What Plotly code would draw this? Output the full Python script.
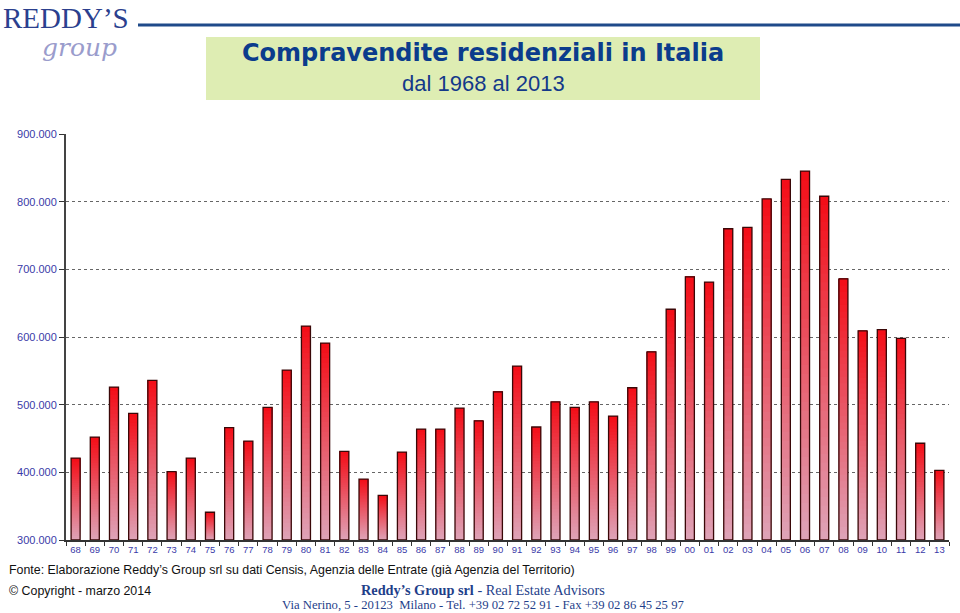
import plotly.graph_objects as go

years = ["68","69","70","71","72","73","74","75","76","77","78","79","80","81","82","83","84","85","86","87","88","89","90","91","92","93","94","95","96","97","98","99","00","01","02","03","04","05","06","07","08","09","10","11","12","13"]
sales = [421000,452000,526000,487000,536000,401000,421000,341000,466000,446000,496000,551000,616000,591000,431000,390000,366000,430000,464000,464000,495000,476000,519000,557000,467000,504000,496000,504000,483000,525000,578000,641000,689000,681000,760000,762000,804000,833000,845000,808000,686000,609000,611000,598000,443000,403000]
ytick_vals = [300000,400000,500000,600000,700000,800000,900000]

W, H = 960, 613
ML, MR, MT, MB = 66, 11, 134, 73
PW, PH = W - ML - MR, H - MT - MB
BASE = 300000

def px(x, y):
    return (x - ML) / PW, (H - MB - y) / PH

fig = go.Figure()

N = 40
bot = (222, 164, 184)
top = (244, 12, 22)
for k in range(N):
    t = (k + 0.5) / N
    c = tuple(round(bot[i] + (top[i] - bot[i]) * t) for i in range(3))
    fig.add_trace(go.Bar(
        x=years,
        y=[(v - BASE) * (N - k) / N for v in sales],
        base=[BASE + k * (v - BASE) / N for v in sales],
        width=0.47,
        marker=dict(color="rgb(%d,%d,%d)" % c, line=dict(width=0)),
        showlegend=False, hoverinfo="skip"))

fig.add_trace(go.Bar(
    x=years, y=[v - BASE for v in sales], base=[BASE] * len(sales),
    width=0.47,
    marker=dict(color="rgba(0,0,0,0)", line=dict(color="#3a0808", width=1.3)),
    showlegend=False, hoverinfo="skip"))

fig.update_layout(
    width=W, height=H, barmode="overlay",
    margin=dict(l=ML, r=MR, t=MT, b=MB),
    paper_bgcolor="white", plot_bgcolor="white",
    separators=",.",
    font=dict(family="Arial, Liberation Sans, sans-serif"),
    xaxis=dict(type="category", tickson="boundaries", ticks="outside", ticklen=4,
               tickcolor="#333", showline=True, linecolor="#333", linewidth=1.5,
               tickangle=0,
               tickfont=dict(size=9.5, color="#3a3aa8"), showgrid=False),
    yaxis=dict(range=[BASE, 900000], tickvals=ytick_vals, tickformat=",d",
               ticks="outside", ticklen=5, tickcolor="#333",
               showline=True, linecolor="#444", linewidth=2,
               tickfont=dict(size=11, color="#3a3aa8"),
               showgrid=True, gridcolor="#666", griddash="dot", gridwidth=1,
               zeroline=False),
)

shapes = []
x0, y0 = px(206, 100); x1, y1 = px(760, 37)
shapes.append(dict(type="rect", xref="paper", yref="paper", x0=x0, y0=y0, x1=x1, y1=y1,
                   fillcolor="#deedb3", line=dict(width=0), layer="below"))
lx0, ly = px(138, 25); lx1, _ = px(960, 25)
shapes.append(dict(type="line", xref="paper", yref="paper", x0=lx0, y0=ly, x1=lx1, y1=ly,
                   line=dict(color="#1f4a8a", width=3)))
fig.update_layout(shapes=shapes)

ann = []
def add(text, x, y, size, color, xanchor="left", family="Arial, Liberation Sans, sans-serif"):
    ax, ay = px(x, y)
    ann.append(dict(text=text, x=ax, y=ay, xref="paper", yref="paper", showarrow=False,
                    xanchor=xanchor, yanchor="middle", font=dict(size=size, color=color, family=family)))

add("<b>Compravendite residenziali in Italia</b>", 483, 53, 24, "#0b3c8c", "center", "DejaVu Sans, Arial, sans-serif")
add("dal 1968 al 2013", 483, 83, 22, "#14398a", "center")
add("REDDY’S", 1, 18, 29, "#2b3f8e", "left", "Liberation Serif, DejaVu Serif, serif")
add("<i>group</i>", 40, 48, 25, "#9a9ccc", "left", "DejaVu Serif, Liberation Serif, serif")
add("Fonte: Elaborazione Reddy’s Group srl su dati Censis, Agenzia delle Entrate (già Agenzia del Territorio)", 7, 570, 12.4, "#111")
add("© Copyright - marzo 2014", 7, 591, 12.4, "#111")
add("<b>Reddy’s Group srl</b> - Real Estate Advisors", 483, 590, 14.3, "#1f3f8a", "center", "Liberation Serif, DejaVu Serif, serif")
add("Via Nerino, 5 - 20123  Milano - Tel. +39 02 72 52 91 - Fax +39 02 86 45 25 97", 483, 604.5, 12.7, "#1f3f8a", "center", "Liberation Serif, DejaVu Serif, serif")
fig.update_layout(annotations=ann)

fig.write_html("out.html", config={"displayModeBar": False},
               post_script="document.body.style.margin='0';document.body.style.overflow='hidden';")
